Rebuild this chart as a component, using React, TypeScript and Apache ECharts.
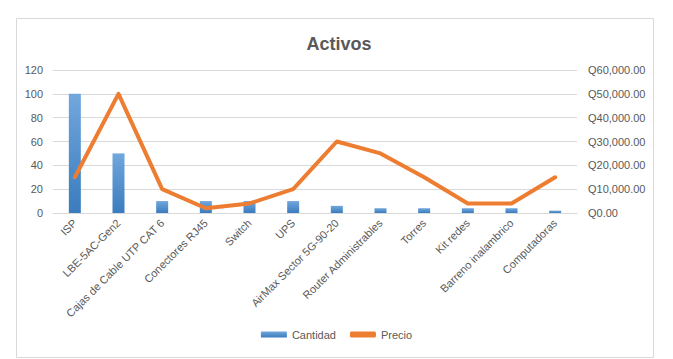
import React, { useEffect, useRef } from "react";
import * as echarts from "echarts";

const categories = [
  "ISP",
  "LBE-5AC-Gen2",
  "Cajas de Cable UTP CAT 6",
  "Conectores RJ45",
  "Switch",
  "UPS",
  "AirMax Sector 5G-90-20",
  "Router Administrables",
  "Torres",
  "Kit redes",
  "Barreno inalambrico",
  "Computadoras",
];
const cantidad = [100, 50, 10, 10, 10, 10, 6, 4, 4, 4, 4, 2];
const precio = [15000, 50000, 10000, 2000, 4000, 10000, 30000, 25000, 15000, 4000, 4000, 15000];

function fmtQ(v: number): string {
  const s = Math.round(v).toString().replace(/\B(?=(\d{3})+(?!\d))/g, ",");
  return "Q" + s + ".00";
}

export default function App() {
  const ref = useRef<HTMLDivElement>(null);
  useEffect(() => {
    const chart = echarts.init(ref.current!, undefined, { renderer: "svg" });
    const font = "'Liberation Sans', Arial, sans-serif";
    chart.setOption({
      animation: false,
      backgroundColor: "#ffffff",
      textStyle: { fontFamily: font },
      title: {
        text: "Activos",
        left: 334,
        textAlign: "center",
        top: 30,
        textStyle: { fontSize: 18, fontWeight: "bold", color: "#595959", fontFamily: font },
      },
      graphic: [
        {
          type: "rect",
          shape: { x: 16.5, y: 18.5, width: 637, height: 339 },
          style: { fill: "none", stroke: "#D9D9D9", lineWidth: 1 },
          silent: true,
        },
      ],
      legend: {
        bottom: 14,
        left: "center",
        itemGap: 14,
        itemWidth: 26,
        itemHeight: 6,
        textStyle: { fontSize: 11, color: "#595959", fontFamily: font },
        data: [
          { name: "Cantidad", icon: "rect" },
          { name: "Precio", icon: "roundRect", itemStyle: { color: "#ED7D31" } },
        ],
      },
      grid: { left: 53, right: 96, top: 70, bottom: 146, containLabel: false },
      xAxis: {
        type: "category",
        data: categories,
        axisLine: { show: true, lineStyle: { color: "#D9D9D9" } },
        axisTick: { show: false },
        axisLabel: {
          rotate: 45,
          interval: 0,
          fontSize: 11,
          color: "#595959",
          margin: 8,
          fontFamily: font,
        },
      },
      yAxis: [
        {
          type: "value",
          min: 0,
          max: 120,
          interval: 20,
          axisLine: { show: false },
          axisTick: { show: false },
          splitLine: { lineStyle: { color: "#D9D9D9" } },
          axisLabel: { fontSize: 11, color: "#595959", margin: 10, fontFamily: font },
        },
        {
          type: "value",
          min: 0,
          max: 60000,
          interval: 10000,
          axisLine: { show: false },
          axisTick: { show: false },
          splitLine: { show: false },
          axisLabel: {
            fontSize: 11,
            color: "#595959",
            margin: 11,
            fontFamily: font,
            formatter: (v: number) => fmtQ(v),
          },
        },
      ],
      series: [
        {
          name: "Cantidad",
          type: "bar",
          data: cantidad,
          barWidth: 12,
          yAxisIndex: 0,
          itemStyle: {
            color: new echarts.graphic.LinearGradient(0, 0, 0, 1, [
              { offset: 0, color: "#71A7DC" },
              { offset: 1, color: "#3A7CBE" },
            ]),
          },
        },
        {
          name: "Precio",
          type: "line",
          data: precio,
          yAxisIndex: 1,
          showSymbol: false,
          symbol: "none",
          itemStyle: { color: "#ED7D31" },
          lineStyle: { color: "#ED7D31", width: 4, join: "round", cap: "round" },
        },
      ],
    });
    return () => chart.dispose();
  }, []);
  return (
    <div
      ref={ref}
      style={{ position: "fixed", left: 0, top: 0, width: 673, height: 359 }}
    />
  );
}
